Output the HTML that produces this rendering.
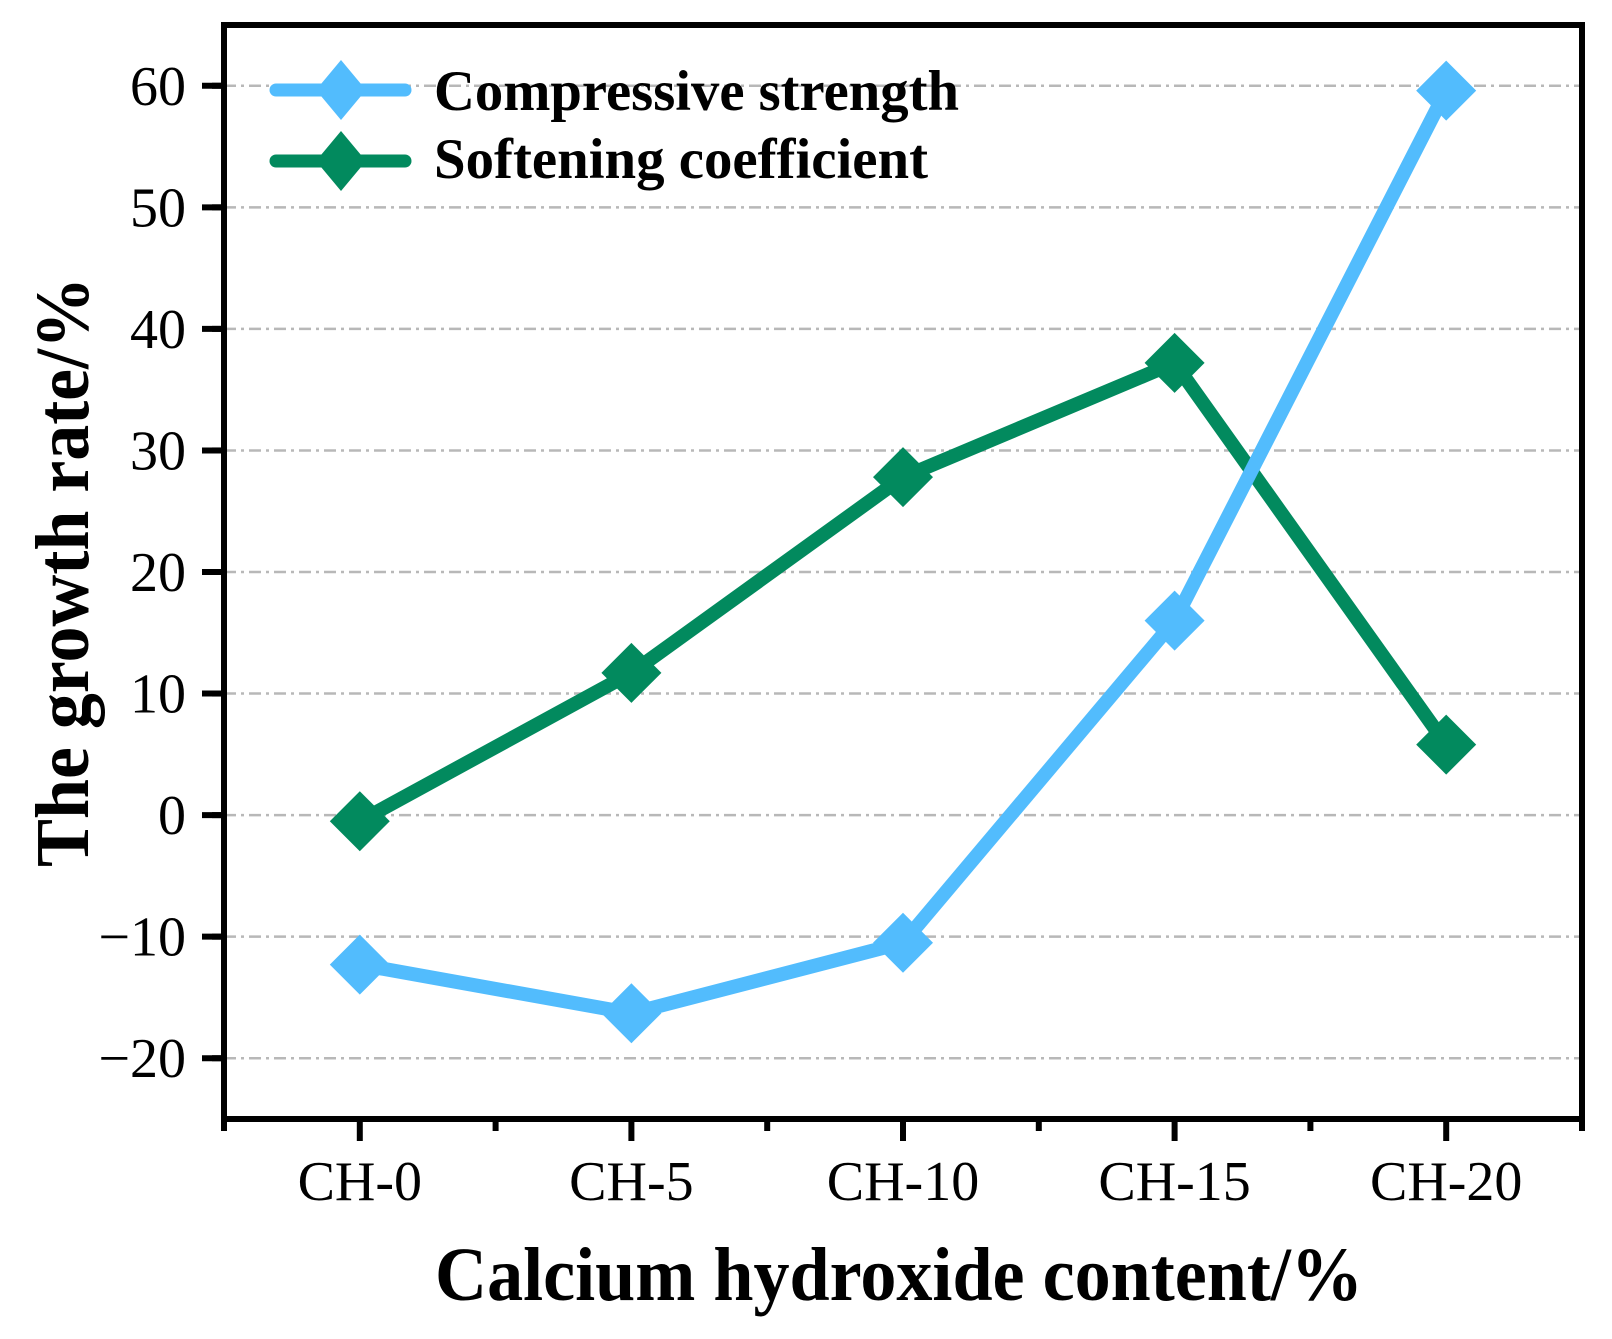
<!DOCTYPE html>
<html><head><meta charset="utf-8"><style>
html,body{margin:0;padding:0;background:#fff;}
svg{display:block;}
text{font-family:"Liberation Serif",serif;fill:#000;}
</style></head><body>
<svg id="chart" width="1612" height="1339" viewBox="0 0 1612 1339" xmlns="http://www.w3.org/2000/svg">
<g id="grid"></g>
<g id="series"></g>
<g id="axes"></g>
<text transform="translate(88,572) rotate(-90)" text-anchor="middle" font-size="76" font-weight="bold" textLength="590" lengthAdjust="spacingAndGlyphs">The growth rate/%</text>
<text x="899" y="1300" text-anchor="middle" font-size="76" font-weight="bold" textLength="928" lengthAdjust="spacingAndGlyphs">Calcium hydroxide content/%</text>
<g id="legend"></g>
</svg>
<script>
const categories = ["CH-0","CH-5","CH-10","CH-15","CH-20"];
const compressive = [-12.3, -16.3, -10.5, 16.0, 59.6];
const softening = [-0.5, 11.7, 27.8, 37.2, 5.8];
const yTicks = [-20,-10,0,10,20,30,40,50,60];
const yTickLabels = ["\u221220","\u221210","0","10","20","30","40","50","60"];
const seriesNames = ["Compressive strength","Softening coefficient"];

const NS = "http://www.w3.org/2000/svg";
const L = 224, R = 1582, T = 25, B = 1119;
const yMin = -25, yMax = 65;
const x = i => L + (i + 0.5) * (R - L) / categories.length;
const y = v => B - (v - yMin) / (yMax - yMin) * (B - T);
function mk(tag, attrs, parent){ const e = document.createElementNS(NS, tag); for (const k in attrs) e.setAttribute(k, attrs[k]); parent.appendChild(e); return e; }
const grid = document.getElementById('grid'), axes = document.getElementById('axes'), ser = document.getElementById('series'), leg = document.getElementById('legend');

yTicks.forEach((v, i) => {
  const g = mk('line', {x1: L, x2: R, y1: y(v), y2: y(v), stroke: '#b8b8b8', 'stroke-width': 2.5, 'stroke-dasharray': '12 5 3 5'}, grid);
  
  
  const t = mk('line', {x1: L - 22, x2: L, y1: y(v), y2: y(v), stroke: '#000', 'stroke-width': 6}, axes);
  
  
  const lb = mk('text', {x: 186, y: y(v) + 19, 'text-anchor': 'end', 'font-size': 56}, axes);
  lb.textContent = yTickLabels[i];
  
  
});
for (let v = yMin + 5; v < yMax; v += 10) {
  const t = mk('line', {x1: L - 12, x2: L, y1: y(v), y2: y(v), stroke: '#000', 'stroke-width': 6}, axes);
  
  
}
categories.forEach((c, i) => {
  const t = mk('line', {x1: x(i), x2: x(i), y1: B, y2: B + 22, stroke: '#000', 'stroke-width': 6}, axes);
  
  
  const lb = mk('text', {x: x(i), y: 1200, 'text-anchor': 'middle', 'font-size': 56}, axes);
  lb.textContent = c;
  
  
});
for (let i = -0.5; i <= categories.length - 0.5; i += 1) {
  const t = mk('line', {x1: x(i), x2: x(i), y1: B, y2: B + 12, stroke: '#000', 'stroke-width': 6}, axes);
  
  
}
const frame = mk('rect', {x: L, y: T, width: R - L, height: B - T, fill: 'none', stroke: '#000', 'stroke-width': 6}, axes);



function diamond(cx, cy, hw, hh, color, parent){
  return mk('polygon', {points: `${cx},${cy-hh} ${cx+hw},${cy} ${cx},${cy+hh} ${cx-hw},${cy}`, fill: color}, parent);
}
function drawSeries(vals, color, name){
  const g = mk('g', {}, ser);
  
  
  const p = mk('polyline', {points: vals.map((v, i) => `${x(i)},${y(v)}`).join(' '), fill: 'none', stroke: color, 'stroke-width': 14, 'stroke-linejoin': 'round'}, g);
  
  
  vals.forEach((v, i) => {
    const d = diamond(x(i), y(v), 30, 30, color, g);
    
    
  });
}
drawSeries(softening, '#028a5e', 'softening-coefficient');
drawSeries(compressive, '#52bcfd', 'compressive-strength');

[['#52bcfd', 90, 110, 'legend-compressive-strength'], ['#028a5e', 161, 178, 'legend-softening-coefficient']].forEach((e, i) => {
  const g = mk('g', {}, leg);
  
  
  mk('line', {x1: 276, x2: 405, y1: e[1], y2: e[1], stroke: e[0], 'stroke-width': 13, 'stroke-linecap': 'round'}, g);
  diamond(341, e[1], 25, 30, e[0], g);
  const t = mk('text', {x: 434, y: e[2], 'font-size': 57, 'font-weight': 'bold', textLength: i === 0 ? 525 : 494, lengthAdjust: 'spacingAndGlyphs'}, g);
  t.textContent = seriesNames[i];
  
  
});
</script>
</body></html>
